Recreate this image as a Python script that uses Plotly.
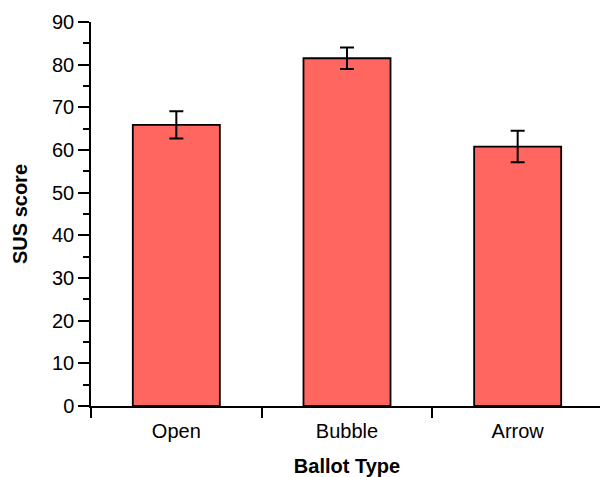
import plotly.graph_objects as go

categories = ["Open", "Bubble", "Arrow"]
sus_scores = [65.9, 81.5, 60.8]
sus_errors = [3.2, 2.5, 3.7]

fig = go.Figure()
fig.add_trace(go.Bar(
    x=categories,
    y=sus_scores,
    width=0.51,
    marker=dict(color="#FF6660", line=dict(color="black", width=1.8)),
    error_y=dict(type="data", array=sus_errors, visible=True, color="black", thickness=2, width=7),
))

# The page body has an 8px margin, so the figure is drawn 8px in and 8px smaller.
font = "Liberation Sans, Arial, Helvetica, sans-serif"
fig.update_layout(
    width=600, height=469,
    margin=dict(l=83, r=5, t=14, b=71),
    plot_bgcolor="white", paper_bgcolor="white",
    font=dict(family=font, size=20, color="black"),
    showlegend=False,
    bargap=0.49,
)
fig.update_xaxes(
    automargin=False,
    showline=True, linecolor="black", linewidth=1.5,
    ticks="outside", tickson="boundaries", ticklen=10, tickwidth=1.5, tickcolor="black",
    ticklabelstandoff=6,
    showgrid=False, zeroline=False,
    title=dict(text="<b>Ballot Type</b>", font=dict(size=20), standoff=18),
)
fig.update_yaxes(
    automargin=False,
    range=[0, 90], dtick=10,
    showline=True, linecolor="black", linewidth=1.5,
    ticks="outside", ticklen=11, tickwidth=1.5, tickcolor="black",
    minor=dict(dtick=5, ticks="outside", ticklen=6, tickwidth=1.5, tickcolor="black", showgrid=False),
    showgrid=False, zeroline=False,
    title=dict(text="<b>SUS score</b>", font=dict(size=20), standoff=19),
)

fig.write_html("out.html")
